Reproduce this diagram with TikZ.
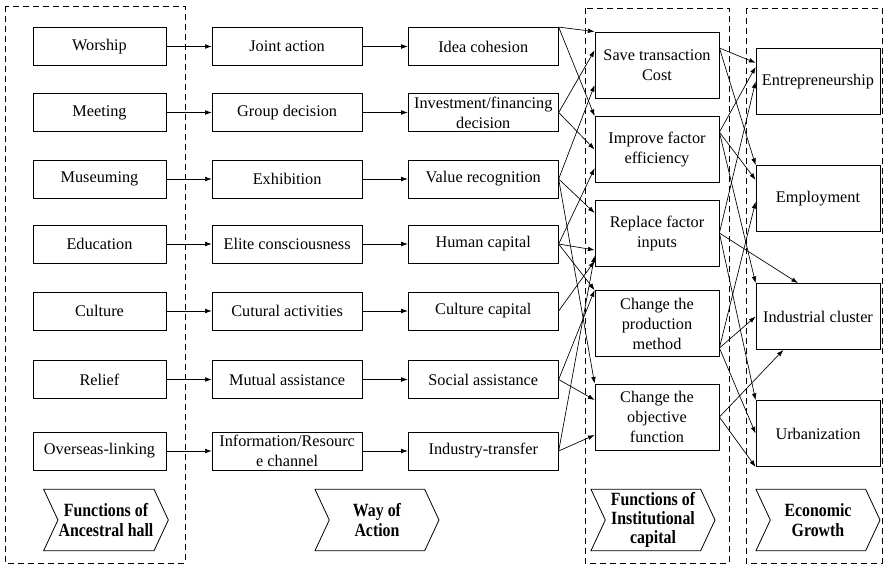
\documentclass[tikz,border=0pt]{standalone}
\usepackage{fontspec}
\setmainfont{Liberation Serif}
\newfontfamily\tagfont[FakeStretch=0.85]{Liberation Serif}
\usetikzlibrary{arrows.meta, positioning, shapes.symbols}

\begin{document}
\begin{tikzpicture}[x=0.75pt, y=-0.75pt, node distance=34pt,
    every node/.style={font=\fontsize{12.2}{15}\selectfont},
    box/.style={draw, line width=0.6pt, align=center, inner sep=1pt, minimum height=28.5pt},
    hall/.style={box, minimum width=99.75pt},
    wide/.style={box, minimum width=112.5pt},
    tall/.style={box, minimum width=93pt, minimum height=49.5pt},
    zone/.style={draw, line width=0.6pt, dash pattern=on 4.5pt off 3pt},
    tag/.style={signal, draw, line width=0.6pt, signal from=west, signal to=east, signal pointer angle=130, minimum width=93pt, minimum height=46pt, align=center, inner sep=0.5pt, font=\tagfont\fontsize{14}{14.5}\selectfont\bfseries},
    link/.style={-{Latex[length=5pt, width=3.5pt]}, line width=0.5pt}]
    \useasboundingbox (0,0) rectangle (890,568);
    % dashed groups
    \draw[zone] (5,6) rectangle (185,563);
    \draw[zone] (585,8) rectangle (729,563);
    \draw[zone] (746,8) rectangle (882,563);
    % functions of the hall
    \node[hall] (worship) at (99.5,46.5) {Worship};
    \node[hall] (meeting) at (99.5,112.5) {Meeting};
    \node[hall] (museum) at (99.5,179) {Museuming};
    \node[hall] (education) at (99.5,244) {Education};
    \node[hall] (culture) at (99.5,311) {Culture};
    \node[hall] (relief) at (99.5,379.5) {Relief};
    \node[hall] (overseas) at (99.5,451) {Overseas-linking};
    % ways of action
    \node[wide, right=of worship] (joint) {Joint action};
    \node[wide, right=of meeting] (group) {Group decision};
    \node[wide, right=of museum] (exhibit) {Exhibition};
    \node[wide, right=of education] (elite) {Elite consciousness};
    \node[wide, right=of culture] (activity) {Cutural activities};
    \node[wide, right=of relief] (mutual) {Mutual assistance};
    \node[wide, right=of overseas] (channel) {Information/Resourc\\e channel};
    \node[wide, right=of joint] (idea) {Idea cohesion};
    \node[wide, right=of group] (invest) {Investment/financing\\decision};
    \node[wide, right=of exhibit] (value) {Value recognition};
    \node[wide, right=of elite] (human) {Human capital};
    \node[wide, right=of activity] (capital) {Culture capital};
    \node[wide, right=of mutual] (social) {Social assistance};
    \node[wide, right=of channel] (transfer) {Industry-transfer};
    % institutional capital
    \node[tall] (save) at (657,65) {Save transaction\\Cost};
    \node[tall] (improve) at (657,149.5) {Improve factor\\efficiency};
    \node[tall] (replace) at (657,233) {Replace factor\\inputs};
    \node[tall] (produce) at (657,323.5) {Change the\\production\\method};
    \node[tall] (objective) at (657,417) {Change the\\objective\\function};
    % economic growth
    \node[tall] (entre) at (818,81.5) {Entrepreneurship};
    \node[tall] (employ) at (818,198.5) {Employment};
    \node[tall] (cluster) at (818,316.5) {Industrial cluster};
    \node[tall] (urban) at (818,433.5) {Urbanization};
    % chevrons
    \node[tag] (tag1) at (106,520) {Functions of\\Ancestral hall};
    \node[tag] (tag2) at (377,520) {Way of\\Action};
    \node[tag] (tag3) at (653,520) {Functions of\\Institutional\\capital};
    \node[tag] (tag4) at (818,520) {Economic\\Growth};
    % straight rows
    \draw[link] (worship) -- (joint);
    \draw[link] (joint) -- (idea);
    \draw[link] (meeting) -- (group);
    \draw[link] (group) -- (invest);
    \draw[link] (museum) -- (exhibit);
    \draw[link] (exhibit) -- (value);
    \draw[link] (education) -- (elite);
    \draw[link] (elite) -- (human);
    \draw[link] (culture) -- (activity);
    \draw[link] (activity) -- (capital);
    \draw[link] (relief) -- (mutual);
    \draw[link] (mutual) -- (social);
    \draw[link] (overseas) -- (channel);
    \draw[link] (channel) -- (transfer);
    % into institutional capital
    \draw[link] (idea.north east) -- (save.north west);
    \draw[link] (idea.north east) -- (improve.north west);
    \draw[link] (invest.east) -- ([yshift=11pt]save.west);
    \draw[link] (invest.east) -- (improve.west);
    \draw[link] (value.east) -- ([yshift=-15pt]save.west);
    \draw[link] (value.east) -- ([yshift=15pt]replace.west);
    \draw[link] (value.east) -- (objective.north west);
    \draw[link] (human.east) -- ([yshift=-14pt]improve.west);
    \draw[link] (human.east) -- ([yshift=-12.75pt]replace.west);
    \draw[link] (human.east) -- (produce.north west);
    \draw[link] (capital.east) -- ([yshift=-21pt]replace.west);
    \draw[link] (social.east) -- (produce.north west);
    \draw[link] (social.east) -- ([yshift=12.75pt]objective.west);
    \draw[link] (transfer.east) -- ([yshift=-17pt]replace.west);
    \draw[link] (transfer.east) -- ([yshift=-13.5pt]objective.west);
    % into economic growth
    \draw[link] ([yshift=12.75pt]save.east) -- ([yshift=14pt]entre.west);
    \draw[link] ([yshift=12.75pt]save.east) -- (employ.north west);
    \draw[link] ([yshift=13pt]improve.east) -- ([yshift=11pt]entre.west);
    \draw[link] ([yshift=13pt]improve.east) -- ([yshift=14pt]employ.west);
    \draw[link] ([yshift=13pt]improve.east) -- (cluster.north west);
    \draw[link] (replace.east) -- (entre.west);
    \draw[link] (replace.east) -- ([xshift=-15pt]cluster.north);
    \draw[link] (replace.east) -- (urban.north west);
    \draw[link] ([yshift=-18.4pt]produce.east) -- ([yshift=-2.5pt]employ.west);
    \draw[link] ([yshift=-18.4pt]produce.east) -- (cluster.west);
    \draw[link] ([yshift=-18.4pt]produce.east) -- (urban.west);
    \draw[link] (objective.east) -- ([xshift=-26pt]cluster.south);
    \draw[link] (objective.east) -- (urban.south west);
\end{tikzpicture}
\end{document}
